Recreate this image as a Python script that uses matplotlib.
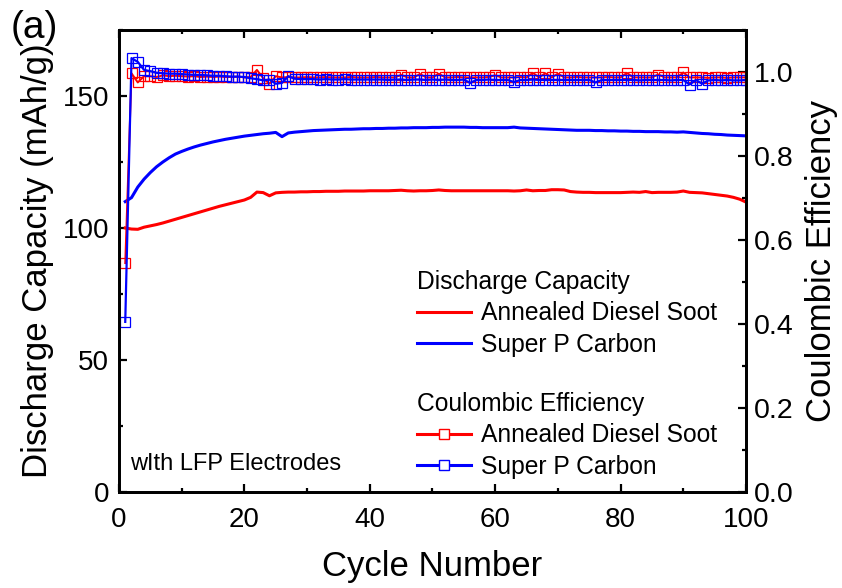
import matplotlib
matplotlib.use('Agg')
import matplotlib.pyplot as plt
from matplotlib.lines import Line2D
from matplotlib.ticker import MultipleLocator
import numpy as np

plt.rcParams['font.family'] = ['Liberation Sans', 'DejaVu Sans']

cycles = np.arange(1, 101)

# discharge capacity (mAh/g)
cap_soot = [
    100.0, 99.6, 99.5, 100.3, 100.8, 101.3, 101.9, 102.6, 103.3, 104.0,
    104.7, 105.4, 106.1, 106.8, 107.5, 108.2, 108.8, 109.4, 110.0, 110.6,
    111.6, 113.6, 113.4, 112.2, 113.3, 113.5, 113.6, 113.6, 113.7, 113.7,
    113.8, 113.8, 113.9, 113.9, 113.9, 114.0, 114.0, 114.0, 114.0, 114.1,
    114.1, 114.1, 114.1, 114.2, 114.3, 114.1, 114.0, 114.1, 114.1, 114.2,
    114.4, 114.2, 114.1, 114.1, 114.1, 114.1, 114.1, 114.1, 114.1, 114.1,
    114.1, 114.1, 114.0, 114.1, 114.4, 114.1, 114.2, 114.2, 114.5, 114.5,
    114.4, 113.8, 113.6, 113.5, 113.5, 113.4, 113.4, 113.4, 113.4, 113.4,
    113.5, 113.6, 113.5, 113.8, 113.4, 113.5, 113.5, 113.5, 113.6, 114.0,
    113.5, 113.4, 113.3, 113.0, 112.7, 112.4, 112.1, 111.6, 110.9, 109.8,
]
cap_superp = [
    110.0, 111.5, 115.5, 118.5, 121.0, 123.2, 125.0, 126.6, 128.0, 129.0,
    129.9, 130.7, 131.4, 132.0, 132.6, 133.1, 133.6, 134.0, 134.4, 134.8,
    135.1, 135.4, 135.7, 135.9, 136.2, 134.6, 136.0, 136.3, 136.5, 136.7,
    136.9, 137.0, 137.1, 137.2, 137.3, 137.4, 137.4, 137.5, 137.6, 137.6,
    137.7, 137.7, 137.8, 137.8, 137.9, 137.9, 138.0, 138.0, 138.0, 138.1,
    138.1, 138.2, 138.2, 138.2, 138.2, 138.1, 138.1, 138.0, 138.0, 138.0,
    138.0, 138.0, 138.2, 137.9, 137.8, 137.7, 137.6, 137.5, 137.4, 137.3,
    137.2, 137.1, 137.0, 137.0, 137.0, 136.9, 136.9, 136.8, 136.8, 136.7,
    136.7, 136.6, 136.6, 136.5, 136.5, 136.5, 136.4, 136.4, 136.3, 136.4,
    136.2, 136.0, 135.8, 135.7, 135.5, 135.4, 135.2, 135.1, 135.0, 134.9,
]

# coulombic efficiency
ce_soot = [
    0.545, 0.997, 0.975, 0.990, 0.990, 0.988, 0.992, 0.990, 0.991, 0.990,
    0.989, 0.990, 0.988, 0.989, 0.988, 0.989, 0.988, 0.988, 0.989, 0.987,
    0.988, 1.005, 0.985, 0.972, 0.990, 0.987, 0.988, 0.987, 0.987, 0.988,
    0.987, 0.987, 0.988, 0.987, 0.987, 0.987, 0.988, 0.987, 0.987, 0.987,
    0.988, 0.987, 0.987, 0.987, 0.993, 0.987, 0.987, 0.995, 0.987, 0.987,
    0.996, 0.987, 0.987, 0.988, 0.987, 0.987, 0.987, 0.987, 0.988, 0.992,
    0.987, 0.987, 0.987, 0.988, 0.987, 0.998, 0.987, 0.997, 0.987, 0.996,
    0.987, 0.987, 0.988, 0.987, 0.987, 0.987, 0.987, 0.988, 0.987, 0.987,
    0.998, 0.987, 0.987, 0.987, 0.987, 0.994, 0.987, 0.987, 0.987, 0.999,
    0.987, 0.987, 0.987, 0.986, 0.987, 0.987, 0.986, 0.987, 0.987, 0.987,
]
ce_superp = [
    0.405, 1.033, 1.024, 1.005, 1.002, 0.998, 0.997, 0.996, 0.996, 0.995,
    0.994, 0.993, 0.993, 0.992, 0.991, 0.991, 0.990, 0.989, 0.989, 0.988,
    0.985, 0.983, 0.980, 0.982, 0.972, 0.974, 0.990, 0.984, 0.983, 0.983,
    0.983, 0.982, 0.983, 0.982, 0.982, 0.983, 0.982, 0.982, 0.982, 0.982,
    0.982, 0.982, 0.981, 0.982, 0.982, 0.981, 0.982, 0.982, 0.981, 0.982,
    0.981, 0.982, 0.981, 0.981, 0.982, 0.974, 0.981, 0.981, 0.982, 0.981,
    0.981, 0.981, 0.976, 0.981, 0.981, 0.982, 0.981, 0.981, 0.981, 0.981,
    0.981, 0.981, 0.981, 0.981, 0.981, 0.975, 0.981, 0.981, 0.981, 0.981,
    0.981, 0.981, 0.980, 0.981, 0.981, 0.981, 0.981, 0.980, 0.981, 0.981,
    0.970, 0.981, 0.972, 0.980, 0.981, 0.980, 0.981, 0.980, 0.980, 0.981,
]

RED = '#ff0000'
BLUE = '#0000ff'
names = ['Annealed Diesel Soot', 'Super P Carbon']

fig = plt.figure(figsize=(8.42, 5.88), dpi=100)
ax = fig.add_axes([0.1413, 0.1633, 0.7447, 0.7857])
ax2 = ax.twinx()

ax.plot(cycles, cap_soot, color=RED, lw=2.2)
ax.plot(cycles, cap_superp, color=BLUE, lw=2.2)

ax2.plot(cycles, ce_soot, color=RED, lw=1.4, marker='s', ms=7,
         mfc='none', mec=RED, mew=0.9)
ax2.plot(cycles, ce_superp, color=BLUE, lw=1.6, marker='s', ms=7,
         mfc='none', mec=BLUE, mew=0.9)

ax.set_xlim(0, 100)
ax.set_ylim(0, 175)
ax2.set_ylim(0, 1.1)

ax.xaxis.set_major_locator(MultipleLocator(20))
ax.xaxis.set_minor_locator(MultipleLocator(10))
ax.yaxis.set_major_locator(MultipleLocator(50))
ax.yaxis.set_minor_locator(MultipleLocator(25))
ax2.yaxis.set_major_locator(MultipleLocator(0.2))
ax2.yaxis.set_minor_locator(MultipleLocator(0.1))
ax2.yaxis.set_major_formatter(plt.FormatStrFormatter('%.1f'))

for a in (ax, ax2):
    for s in a.spines.values():
        s.set_linewidth(2.0)
ax.tick_params(axis='both', which='both', direction='in', labelsize=20, width=1.6)
ax.tick_params(axis='x', which='both', top=True, pad=11)
ax.tick_params(axis='y', which='both', right=False, pad=7)
ax.tick_params(which='major', length=6)
ax.tick_params(which='minor', length=3)
ax2.tick_params(axis='y', which='both', direction='in', labelsize=20.5, width=1.6, pad=6)
ax2.tick_params(which='major', length=6)
ax2.tick_params(which='minor', length=3)

ax.set_xlabel('Cycle Number', fontsize=25, labelpad=12)
ax.set_ylabel('Discharge Capacity (mAh/g)', fontsize=25, labelpad=6)
ax2.set_ylabel('Coulombic Efficiency', fontsize=25, labelpad=8)

ax.text(0.018, 0.061, 'wIth LFP Electrodes', transform=ax.transAxes,
        fontsize=17, va='center', ha='left')
fig.text(0.013, 0.952, '(a)', fontsize=28, ha='left', va='center')

# two stacked legends, one per quantity
cap_handles = [Line2D([], [], color=RED, lw=2.2),
               Line2D([], [], color=BLUE, lw=2.2)]
ce_handles = [Line2D([], [], color=RED, lw=2.2, marker='s', ms=7, mfc='white', mec=RED, mew=1.0),
              Line2D([], [], color=BLUE, lw=2.2, marker='s', ms=7, mfc='white', mec=BLUE, mew=1.0)]
leg_kw = dict(loc='upper left', frameon=False, fontsize=17.7, title_fontsize=17.7,
              alignment='left', handlelength=2.2, handletextpad=0.4,
              labelspacing=0.3, borderaxespad=0, numpoints=1)

leg1 = ax2.legend(cap_handles, names, title='Discharge Capacity',
                  bbox_to_anchor=(0.46, 0.502), **leg_kw)
ax2.add_artist(leg1)
ax2.legend(ce_handles, names, title='Coulombic Efficiency',
           bbox_to_anchor=(0.46, 0.238), **leg_kw)

fig.savefig('out.png', dpi=100)
